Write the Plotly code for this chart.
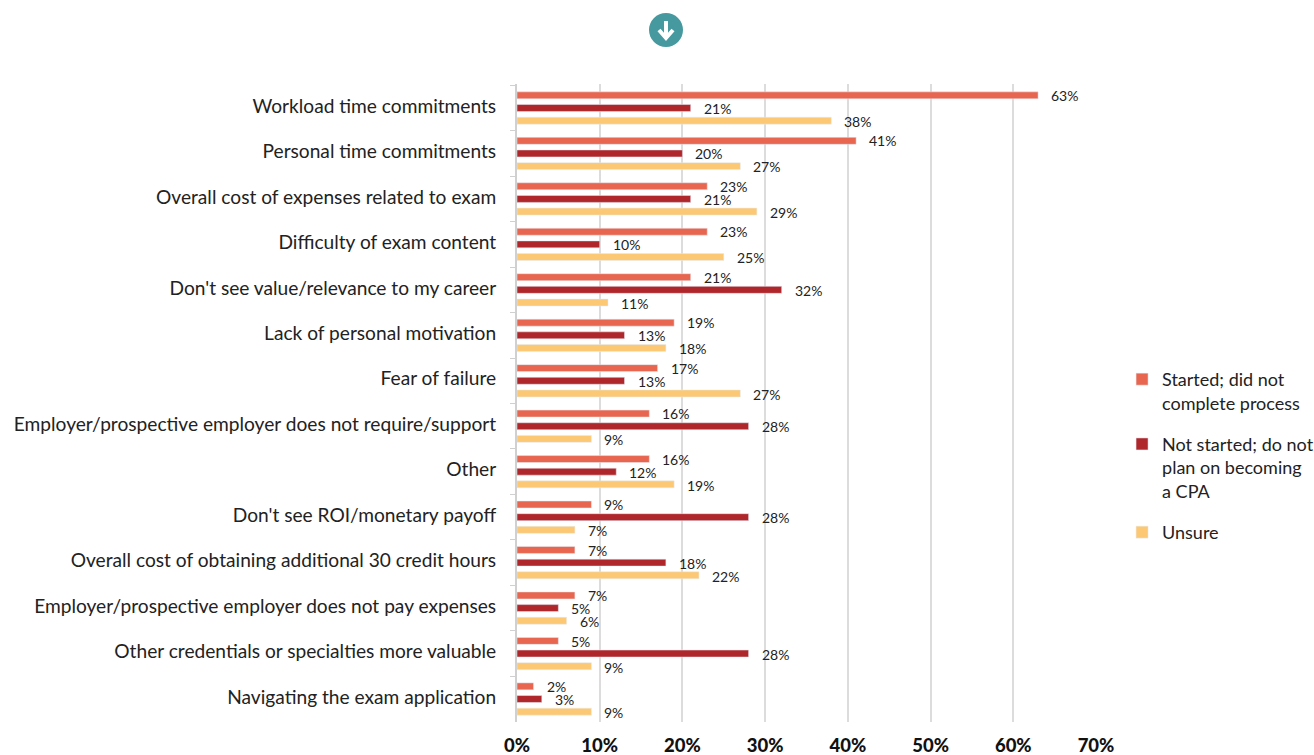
import plotly.graph_objects as go

categories = ["Workload time commitments", "Personal time commitments", "Overall cost of expenses related to exam",
              "Difficulty of exam content", "Don't see value/relevance to my career", "Lack of personal motivation",
              "Fear of failure", "Employer/prospective employer does not require/support", "Other",
              "Don't see ROI/monetary payoff", "Overall cost of obtaining additional 30 credit hours",
              "Employer/prospective employer does not pay expenses", "Other credentials or specialties more valuable",
              "Navigating the exam application"]
started = [63, 41, 23, 23, 21, 19, 17, 16, 16, 9, 7, 7, 5, 2]
not_started = [21, 20, 21, 10, 32, 13, 13, 28, 12, 28, 18, 5, 28, 3]
unsure = [38, 27, 29, 25, 11, 18, 27, 9, 19, 7, 22, 6, 9, 9]
series_names = ["Started; did not<br>complete process", "Not started; do not<br>plan on becoming<br>a CPA", "Unsure"]
series_colors = ["#E8664F", "#B0272B", "#FCC873"]

FONT = "Lato"
TEXT = "#222222"
fig = go.Figure()
annotations = []
label_shift = [12.5, -0.5, -13.5]
for i, (name, vals, col) in enumerate(zip(series_names, [started, not_started, unsure], series_colors)):
    fig.add_trace(go.Bar(y=categories, x=vals, name=name, orientation="h", marker_color=col,
                         legendgroup=f"g{i}", hoverinfo="x+y"))
    for c, v in zip(categories, vals):
        annotations.append(dict(x=v, y=c, xref="x", yref="y", text=f"{v}%", showarrow=False, xanchor="left",
                                xshift=11, yshift=label_shift[i], font=dict(family=FONT, size=14, color=TEXT)))

fig.update_layout(
    width=1314, height=755, autosize=False,
    margin=dict(l=517, r=218, t=84, b=33, autoexpand=False),
    paper_bgcolor="white", plot_bgcolor="white",
    barmode="group", bargap=0.165, bargroupgap=0.45,
    font=dict(family=FONT, color=TEXT),
    annotations=annotations,
    legend=dict(x=1.045, xanchor="left", xref="paper", y=0.417, yanchor="middle", valign="top",
                font=dict(family=FONT, size=18, color=TEXT), tracegroupgap=15,
                traceorder="grouped", bgcolor="rgba(0,0,0,0)"),
    xaxis=dict(range=[0, 70], dtick=10, ticksuffix="%", showgrid=True, gridcolor="#DCDCDC", gridwidth=2,
               zeroline=False, showline=False, ticks="", fixedrange=True, ticklabelstandoff=10,
               tickfont=dict(family=FONT, size=18.5, color="#111111", weight=900)),
    yaxis=dict(autorange="reversed", tickson="boundaries", ticks="outside", ticklen=5, tickcolor="#D0D0D0",
               tickwidth=1, showline=True, linecolor="#D0D0D0", linewidth=2, showgrid=False, fixedrange=True,
               ticklabelstandoff=15, ticklabelshift=2, tickfont=dict(family=FONT, size=19.15, color=TEXT)),
    shapes=[
        dict(type="circle", xref="paper", yref="paper", xsizemode="pixel", ysizemode="pixel",
             xanchor=(666 - 517) / 579, yanchor=1 + (84 - 30) / 638, x0=-17, x1=17, y0=-17, y1=17,
             fillcolor="#469A9F", line_width=0),
        dict(type="path", xref="paper", yref="paper", xsizemode="pixel", ysizemode="pixel",
             xanchor=(666 - 517) / 579, yanchor=1 + (84 - 30) / 638,
             path="M0,9 L0,-8 M-7,0 L0,-8 L7,0", line=dict(color="white", width=4), fillcolor="rgba(0,0,0,0)"),
    ],
)
fig.write_html("out.html", config={"displayModeBar": False}, post_script="document.body.style.margin='0';")
